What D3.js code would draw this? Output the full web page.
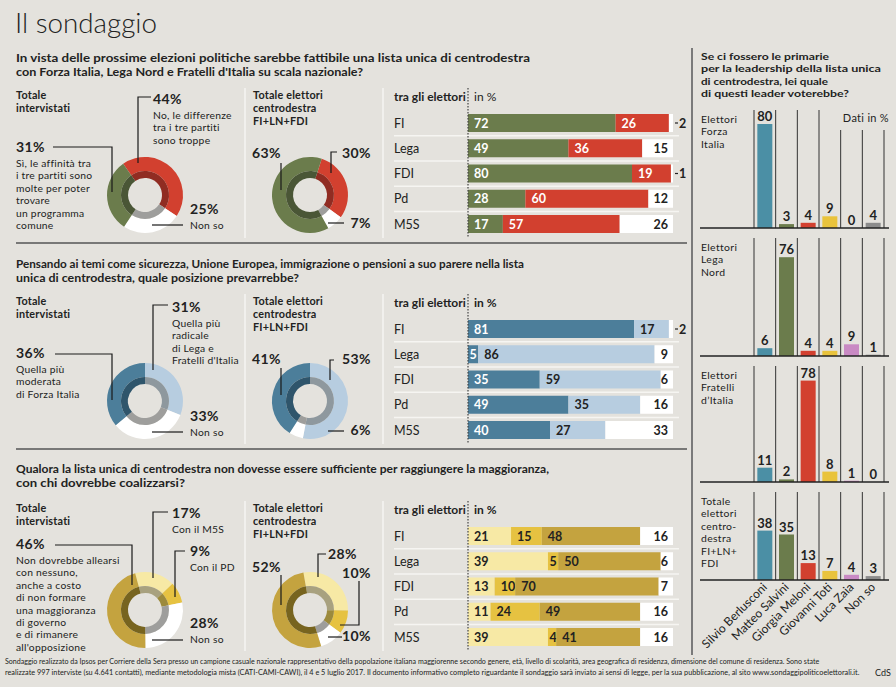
<!DOCTYPE html>
<html><head><meta charset="utf-8">
<script src="https://cdn.jsdelivr.net/npm/d3@7"></script>
<style>
html,body{margin:0;padding:0;background:#e4e2dd;}
svg{display:block;font-family:Lato,"Open Sans",sans-serif;}
</style></head><body>
<svg id="chart" width="896" height="687"></svg>
<script>
// ---------------- DATA ----------------
const rowLabels = ["FI","Lega","FDI","Pd","M5S"];
// Q1: lista unica fattibile?
const q1Yes = [72,49,80,28,17];
const q1No  = [26,36,19,60,57];
const q1Dk  = [2,15,1,12,26];
const q1Total  = [44,25,31];   // No, Non so, Sì
const q1Centre = [30,7,63];    // No, Non so, Sì
// Q2: quale posizione prevarrebbe
const q2Moderate = [81,5,35,49,40];
const q2Radical  = [17,86,59,35,27];
const q2Dk       = [2,9,6,16,33];
const q2Total  = [31,33,36];   // radicale, Non so, moderata
const q2Centre = [53,6,41];
// Q3: con chi coalizzarsi
const q3M5S  = [21,39,13,11,39];
const q3PD   = [15,5,10,24,4];
const q3None = [48,50,70,49,41];
const q3Dk   = [16,6,7,16,16];
const q3Total  = [17,9,28,46]; // M5S, PD, Non so, nessuno
const q3Centre = [28,10,10,52];
// Primarie
const leaders = ["Silvio Berlusconi","Matteo Salvini","Giorgia Meloni","Giovanni Toti","Luca Zaia","Non so"];
const leadFI   = [80,3,4,9,0,4];
const leadLega = [6,76,4,4,9,1];
const leadFDI  = [11,2,78,8,1,0];
const leadTot  = [38,35,13,7,4,3];
const panelNames = [["Elettori","Forza","Italia"],["Elettori","Lega","Nord"],["Elettori","Fratelli","d\u2019Italia"],["Totale","elettori","centro-","destra","FI+LN+","FDI"]];

// ---------------- STYLE ----------------
const BG="#e4e2dd", INK="#222";
const GREEN="#6b7c4c", RED="#d2402f", WHITE="#ffffff";
const DKGREEN="#4a5636", DKRED="#902c22", GRAYIN="#9e9e9c";
const BLUE="#4c7e9a", LBLUE="#b7cde0", DKBLUE="#2f556b", LBLUEIN="#8e989e";
const LYEL="#f7e9a5", MYEL="#e6c241", GOLD="#c4a33f", DKGOLD="#77641f", LYELIN="#a8a17f", MYELIN="#9c8a3c";
const TEAL="#4b8fa5", YEL="#e9c33c", PINK="#c98ac4", GREY="#8c8c8c";
const leadColors=[TEAL,GREEN,RED,YEL,PINK,GREY];

const svg = d3.select("#chart");
svg.append("rect").attr("width",896).attr("height",687).attr("fill",BG);

function txt(g,x,y,s,o={}){
  const t=g.append("text").attr("x",x).attr("y",y).text(s)
   .attr("font-size",o.size||11.5).attr("font-weight",o.weight||400)
   .attr("fill",o.fill||INK).attr("text-anchor",o.anchor||"start");
  if(o.ls) t.attr("letter-spacing",o.ls);
  if(o.w){t.attr("textLength",o.w).attr("lengthAdjust","spacingAndGlyphs");}
  return t;
}
// multi-line block as a single text element
function block(g,x,y,lines,lh,o={}){
  const t=g.append("text").attr("x",x).attr("y",y)
   .attr("font-size",o.size||11.5).attr("font-weight",o.weight||400)
   .attr("fill",o.fill||INK).attr("text-anchor",o.anchor||"start");
  if(o.ls) t.attr("letter-spacing",o.ls);
  lines.forEach((s,k)=>{
    const ts=t.append("tspan").attr("x",x).attr("dy",k?lh:0).text(s);
    if(o.w&&o.w[k]) ts.attr("textLength",o.w[k]).attr("lengthAdjust","spacingAndGlyphs");
  });
  return t;
}
const line = d3.line();

// Title
txt(svg,15,33,"Il sondaggio",{size:28,weight:300,w:142});

// ---------------- SECTIONS ----------------
const sections = [
 {off:0, q:["In vista delle prossime elezioni politiche sarebbe fattibile una lista unica di centrodestra",
            "con Forza Italia, Lega Nord e Fratelli d'Italia su scala nazionale?"], qw:[514,347], qy:62,
  stacks:[q1Yes,q1No,q1Dk], colors:[GREEN,RED,WHITE], tcol:["#fff","#fff",INK],
  d1:{vals:q1Total, start:-35, colors:[RED,WHITE,GREEN], inner:[DKRED,GRAYIN,DKGREEN], cy:195,
      ann:[{i:0,x:153,y:104,desc:["No, le differenze","tra i tre partiti","sono troppe"],lead:[[151,97],[138,97],[138,163]]},
           {i:2,x:16,y:152,desc:["Sì, le affinità tra","i tre partiti sono","molte per poter","trovare","un programma","comune"],lead:[[53,147],[112,147],[112,192]]},
           {i:1,x:190,y:214,desc:["Non so"],lead:[[152,225],[183,225]]}]},
  d2:{vals:q1Centre, start:18, colors:[RED,WHITE,GREEN], inner:[DKRED,GRAYIN,DKGREEN], cy:195,
      ann:[{i:2,x:252,y:158,lead:[[281,163],[281,190]]},
           {i:0,x:371,y:158,anchor:"end",lead:[[337,152],[331,152],[331,173]]},
           {i:1,x:371,y:228,anchor:"end",lead:[[328,223],[344,223]]}]}},
 {off:206, q:["Pensando ai temi come sicurezza, Unione Europea, immigrazione o pensioni a suo parere nella lista",
            "unica di centrodestra, quale posizione prevarrebbe?"], qw:[508,283], qy:62,
  stacks:[q2Moderate,q2Radical,q2Dk], colors:[BLUE,LBLUE,WHITE], tcol:["#fff",INK,INK],
  d1:{vals:q2Total, start:0, colors:[LBLUE,WHITE,BLUE], inner:[LBLUEIN,GRAYIN,DKBLUE], cy:195,
      ann:[{i:0,x:172,y:106,desc:["Quella più","radicale","di Lega e","Fratelli d'Italia"],lead:[[168,99],[153,99],[153,164]]},
           {i:2,x:16,y:152,desc:["Quella più","moderata","di Forza Italia"],lead:[[55,148],[112,148],[112,194]]},
           {i:1,x:190,y:215,desc:["Non so"],lead:[[152,226],[183,226]]}]},
  d2:{vals:q2Centre, start:0, colors:[LBLUE,WHITE,BLUE], inner:[LBLUEIN,GRAYIN,DKBLUE], cy:195,
      ann:[{i:2,x:252,y:158,lead:[[281,162],[281,189]]},
           {i:0,x:371,y:158,anchor:"end",lead:[[334,154],[330,154],[330,174]]},
           {i:1,x:371,y:229,anchor:"end",lead:[[328,225],[344,225]]}]}},
 {off:413, q:["Qualora la lista unica di centrodestra non dovesse essere sufficiente per raggiungere la maggioranza,",
            "con chi dovrebbe coalizzarsi?"], qw:[533,169], qy:60,
  stacks:[q3M5S,q3PD,q3None,q3Dk], colors:[LYEL,MYEL,GOLD,WHITE], tcol:[INK,INK,INK,INK],
  d1:{vals:q3Total, start:-15, colors:[LYEL,MYEL,WHITE,GOLD], inner:[LYELIN,MYELIN,GRAYIN,DKGOLD], cy:197,
      ann:[{i:0,x:172,y:105,desc:["Con il M5S"],lead:[[168,99],[153,99],[153,165]]},
           {i:1,x:190,y:143,desc:["Con il PD"],lead:[[185,138],[175,138],[175,184]]},
           {i:3,x:16,y:136,desc:["Non dovrebbe allearsi","con nessuno,","anche a costo","di non formare","una maggioranza","di governo","e di rimanere","all'opposizione"],lead:[[55,132],[132,132],[132,172]]},
           {i:2,x:190,y:215,desc:["Non so"],lead:[[152,227],[183,227]]}]},
  d2:{vals:q3Centre, start:-10, colors:[LYEL,MYEL,WHITE,GOLD], inner:[LYELIN,MYELIN,GRAYIN,DKGOLD], cy:197,
      ann:[{i:3,x:252,y:159,lead:[[281,162],[281,192]]},
           {i:0,x:328,y:146,lead:[[326,141],[318,141],[318,164]]},
           {i:1,x:371,y:165,anchor:"end",lead:[[359,168],[359,212],[340,212]]},
           {i:2,x:371,y:228,anchor:"end",lead:[[328,224],[342,224]]}]}}
];

const xBar = d3.scaleLinear().domain([0,100]).range([468,673]);
const yRow = d3.scalePoint().domain(rowLabels).range([123,224]);

function drawDonut(g,cx,d){
  const pie=d3.pie().sort(null).value(v=>v)
     .startAngle(d.start*Math.PI/180).endAngle(d.start*Math.PI/180+2*Math.PI);
  const arcs=pie(d.vals);
  const outer=d3.arc().innerRadius(24).outerRadius(38);
  const inner=d3.arc().innerRadius(17).outerRadius(24);
  const dg=g.append("g").attr("transform",`translate(${cx},${d.cy})`);
  dg.selectAll("path.o").data(arcs).join("path").attr("class","o").attr("d",outer).attr("fill",(a,i)=>d.colors[i]);
  dg.selectAll("path.i").data(arcs).join("path").attr("class","i").attr("d",inner).attr("fill",(a,i)=>d.inner[i]);
  d.ann.forEach(a=>{
    g.append("path").attr("d",line(a.lead)).attr("fill","none").attr("stroke","#1a1a1a").attr("stroke-width",1.2);
    const t=g.append("text").attr("x",a.x).attr("y",a.y).attr("fill",INK).attr("text-anchor",a.anchor||"start");
    t.append("tspan").attr("font-size",14).attr("font-weight",700).attr("letter-spacing",0.4).text(d.vals[a.i]+"%");
    (a.desc||[]).forEach((s,k)=>t.append("tspan").attr("x",a.x).attr("dy",k?12.4:15)
        .attr("font-size",10.3).attr("font-weight",400).attr("letter-spacing",0.25).text(s));
  });
}

sections.forEach(sec=>{
  const g=svg.append("g").attr("transform",`translate(0,${sec.off})`);
  block(g,16,sec.qy,sec.q,13.5,{size:11.2,weight:700,w:sec.qw});
  // column headers
  block(g,16,99,["Totale","intervistati"],13,{size:10.8,weight:700,ls:0.2});
  block(g,253,99,["Totale elettori","centrodestra","FI+LN+FDI"],13,{size:10.8,weight:700,ls:0.2});
  // separators
  [245,383].forEach(x=>g.append("line").attr("x1",x).attr("x2",x).attr("y1",88).attr("y2",238).attr("stroke","#f6f5f2").attr("stroke-width",1.5));
  drawDonut(g,145,sec.d1);
  drawDonut(g,310,sec.d2);
  // bars
  txt(g,394,101,"tra gli elettori",{size:12,weight:700});
  txt(g,474,101,"in %",{size:12,weight:sec.off===0?400:700});
  for(let i=0;i<rowLabels.length-1;i++){
    const yy=(yRow(rowLabels[i])+yRow(rowLabels[i+1]))/2;
    g.append("line").attr("x1",394).attr("x2",679).attr("y1",yy).attr("y2",yy).attr("stroke","#f6f5f2").attr("stroke-width",1.5);
  }
  rowLabels.forEach((r,i)=>{
    const cy=yRow(r);
    txt(g,394,cy+4.5,r,{size:12.5});
    let cum=0;
    sec.stacks.forEach((s,k)=>{
      const v=s[i], x0=xBar(cum), x1=xBar(cum+v);
      g.append("rect").attr("x",x0).attr("y",cy-9).attr("width",x1-x0).attr("height",18).attr("fill",sec.colors[k]);
      const last=k===sec.stacks.length-1;
      if(last){
        if(v<5){
          g.append("line").attr("x1",675).attr("x2",678).attr("y1",cy).attr("y2",cy).attr("stroke",INK).attr("stroke-width",1.2);
          txt(g,679,cy+4.5,v,{size:12.5,weight:700});
        } else txt(g,x1-5,cy+4.5,v,{size:12.5,weight:700,anchor:"end"});
      } else {
        txt(g,x0+((x1-x0)<14?1.5:6),cy+4.5,v,{size:12.5,weight:700,fill:sec.tcol[k]});
      }
      cum+=v;
    });
  });
  g.append("line").attr("x1",468).attr("x2",468).attr("y1",88).attr("y2",237)
   .attr("stroke","#444").attr("stroke-width",1.2).attr("stroke-dasharray","1.5,1.5");
});
// horizontal section separators
[243,449].forEach(y=>svg.append("line").attr("x1",16).attr("x2",687).attr("y1",y).attr("y2",y).attr("stroke","#555").attr("stroke-width",1.5));
// vertical panel divider
svg.append("line").attr("x1",692).attr("x2",692).attr("y1",48).attr("y2",655).attr("stroke","#7a7a7a").attr("stroke-width",2);

// ---------------- RIGHT PANEL ----------------
block(svg,701,60,["Se ci fossero le primarie","per la leadership della lista unica","di centrodestra, lei quale","di questi leader voterebbe?"],12.4,
  {size:10.3,weight:700,w:[128,180,127,148]});
const xLead = d3.scaleBand().domain(leaders).range([754,884]);
const panels=[{vals:leadFI,top:110,base:228},{vals:leadLega,top:238,base:356},{vals:leadFDI,top:366,base:482},{vals:leadTot,top:492,base:580}];
panels.forEach((p,pi)=>{
  const g=svg.append("g");
  const y=d3.scaleLinear().domain([0,100]).range([p.base,p.base-130]);
  const bounds=leaders.map(l=>xLead(l)).concat([884]);
  bounds.forEach((bx,k)=>{
    const top=(pi===0&&k>=4)?130:p.top;
    g.append("line").attr("x1",bx).attr("x2",bx).attr("y1",top).attr("y2",p.base).attr("stroke","#333").attr("stroke-width",1);
  });
  leaders.forEach((l,k)=>{
    const v=p.vals[k], bw=15, bx=xLead(l)+(xLead.bandwidth()-bw)/2;
    g.append("rect").attr("x",bx).attr("y",y(v)).attr("width",bw).attr("height",p.base-y(v)).attr("fill",leadColors[k]);
    txt(g,xLead(l)+xLead.bandwidth()/2,y(v)-3,v,{size:13,weight:700,anchor:"middle"});
  });
  g.append("line").attr("x1",700).attr("x2",889).attr("y1",p.base).attr("y2",p.base).attr("stroke","#222").attr("stroke-width",1.5);
  block(g,701,p.top+12.5,panelNames[pi],12.5,{size:10.4,ls:0.35});
  if(pi===0) txt(g,889,122,"Dati in %",{size:11,anchor:"end",ls:0.3});
});
leaders.forEach(l=>{
  const cx=xLead(l)+xLead.bandwidth()/2+3;
  svg.append("text").attr("transform",`translate(${cx},588) rotate(-45)`).attr("text-anchor","end")
    .attr("font-size",12).attr("fill",INK).text(l);
});

// ---------------- FOOTER ----------------
function fitLine(s,x,y,w,size){
  const t=svg.append("text").attr("x",0).attr("y",0).attr("font-size",size).attr("fill",INK).text(s);
  const nat=t.node().getComputedTextLength();
  t.attr("transform",`translate(${x},${y}) scale(${w/nat},1)`);
}
fitLine("Sondaggio realizzato da Ipsos per Corriere della Sera presso un campione casuale nazionale rappresentativo della popolazione italiana maggiorenne secondo genere, età, livello di scolarità, area geografica di residenza, dimensione del comune di residenza. Sono state",5,664,815,8.3);
fitLine("realizzate 997 interviste (su 4.641 contatti), mediante metodologia mista (CATI-CAMI-CAWI), il 4 e 5 luglio 2017. Il documento informativo completo riguardante il sondaggio sarà inviato ai sensi di legge, per la sua pubblicazione, al sito www.sondaggipoliticoelettorali.it.",5,674.5,856,8.3);
txt(svg,875,676,"CdS",{size:9});
</script>
</body></html>
